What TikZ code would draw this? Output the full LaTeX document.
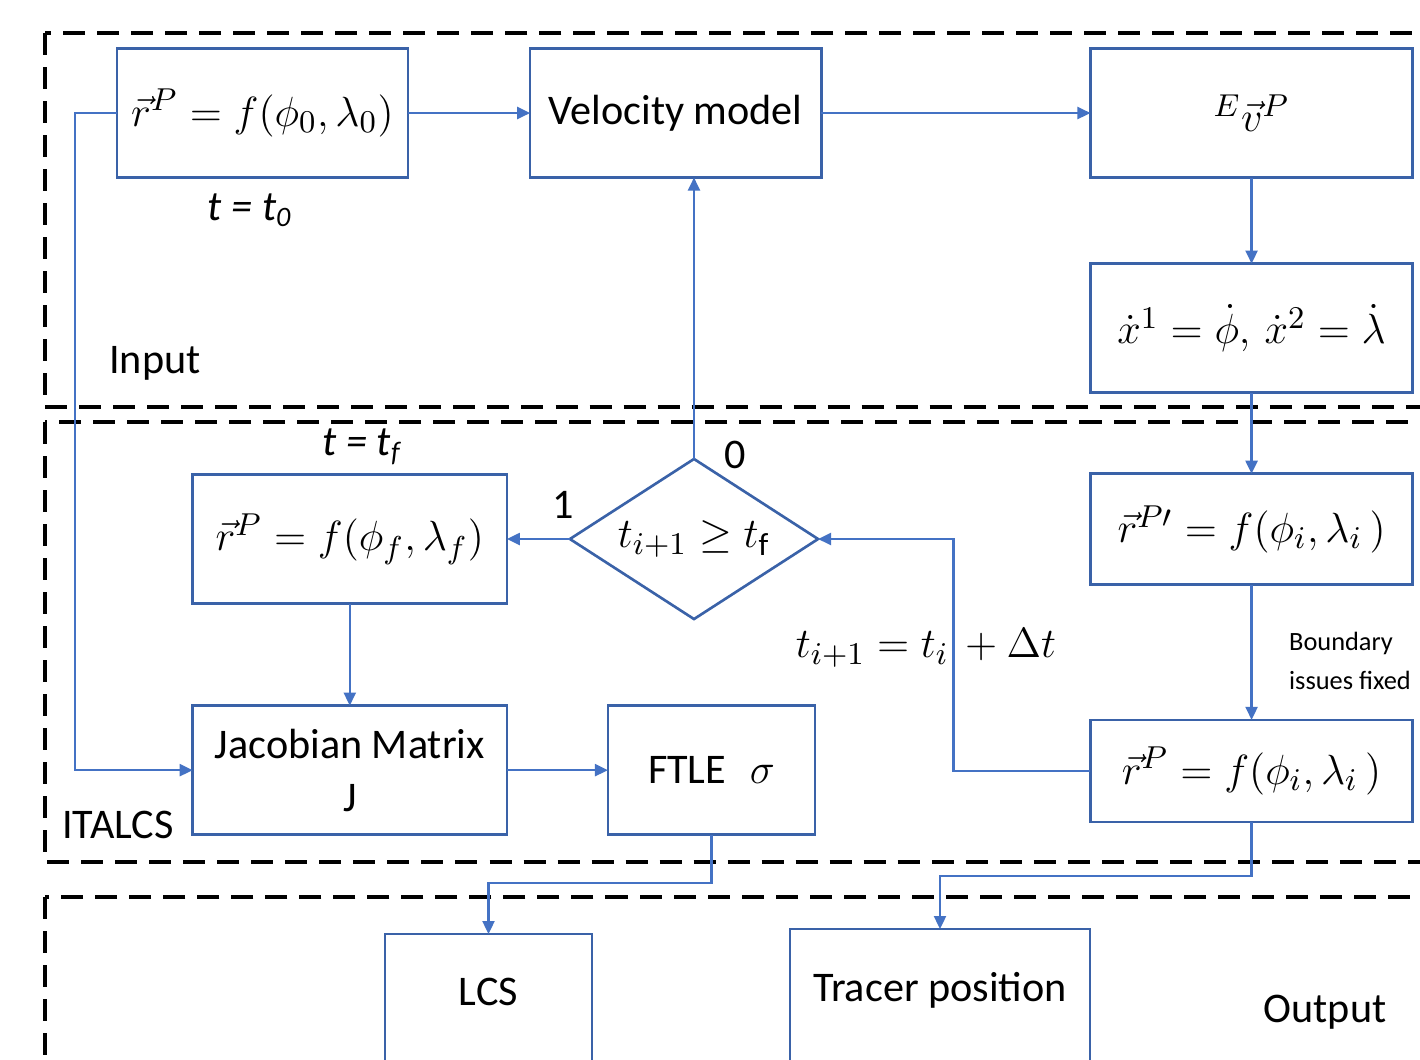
\documentclass[tikz,border=0pt]{standalone}
\usepackage{amsmath,amssymb}
\usepackage{fontspec}
\setmainfont{Carlito}
\usepackage{tikz}
\usetikzlibrary{positioning, arrows.meta, shapes.geometric, calc}
\definecolor{BoxBlue}{HTML}{3A62A8}
\definecolor{LineBlue}{HTML}{4472C4}

\begin{document}
\begin{tikzpicture}[
    x=0.01cm, y=-0.01cm,
    blk/.style={draw=BoxBlue, line width=0.75pt, minimum width=2.91cm, minimum height=1.29cm, align=center, inner sep=0pt, outer sep=0pt, font=\fontsize{12}{17}\selectfont},
    dec/.style={draw=BoxBlue, line width=0.75pt, diamond, aspect=1.55, minimum width=2.48cm, minimum height=1.6cm, inner sep=0pt, outer sep=0pt, font=\fontsize{13}{16}\selectfont},
    arr/.style={-{Triangle[length=1.3mm, width=1.2mm]}, line width=0.65pt, color=LineBlue},
    region/.style={draw=black, line width=1pt, dash pattern=on 0.22cm off 0.12cm},
    lbl/.style={font=\fontsize{12}{15}\selectfont, inner sep=1pt},
    mth/.style={font=\fontsize{13}{16}\selectfont},
    every node/.style={font=\fontsize{12}{15}\selectfont}
]
\useasboundingbox (0,0) rectangle (1420,1059);
\fill[white] (0,0) rectangle (1420,1059);

% Dashed regions
\draw[region] (45,33) rectangle (1460,407);
\draw[region] (45,422) rectangle (1460,862);
\draw[region] (45,897) rectangle (1460,1100);

\node[lbl] (input) at (155,363) {Input};
\node[lbl] (italcs) at (118,825) {ITALCS};
\node[lbl] (output) at (1325,1012) {Output};

% Input stage
\node[blk, mth] (rzero) at (262.5,113) {$\vec{r}^{P} = f(\phi_0, \lambda_0)$};
\node[blk, right=1.22cm of rzero] (vel) {Velocity model};
\node[blk, mth, minimum width=3.22cm, right=2.69cm of vel] (evel) {${}^{E}\vec{v}^{P}$};
\node[blk, mth, minimum width=3.22cm, below=0.86cm of evel] (xdot) {$\dot{x}^1 = \dot{\phi},\, \dot{x}^2 = \dot{\lambda}$};

\node[lbl] (tzero) at (250,210) {\textit{t = t\textsubscript{0}}};

% ITALCS stage
\node[blk, mth, minimum width=3.22cm, minimum height=1.11cm, below=0.81cm of xdot] (rprime) {$\vec{r}^{P\prime} = f(\phi_i, \lambda_i\,)$};
\node[blk, mth, minimum width=3.22cm, minimum height=1.02cm, below=1.35cm of rprime] (rstep) {$\vec{r}^{P} = f(\phi_i, \lambda_i\,)$};

\node[dec] (check) at (694,539) {$t_{i+1} \geq t_{\mathrm{f}}$};
\node[blk, mth, minimum width=3.14cm, left=0.63cm of check] (rfin) {$\vec{r}^{P} = f(\phi_f, \lambda_f)$};
\node[blk, minimum width=3.14cm, below=1.02cm of rfin] (jac) {Jacobian Matrix\\[-2pt]$\mathrm{J}$};
\node[blk, minimum width=2.07cm, right=1.01cm of jac] (ftle) {FTLE\,\ \,$\sigma$};

\node[lbl] (tfin) at (362,447) {\textit{t = t\textsubscript{f}}};
\node[lbl] (one) at (563,505) {1};
\node[lbl] (zero) at (735,455) {0};
\node[lbl, mth] (tinc) at (926,648) {$t_{i+1} = t_i\, + \Delta t$};
\node[font=\fontsize{7.5}{11}\selectfont, align=left] (bnd) at (1350,661) {Boundary\\issues fixed};

% Output stage
\node[blk, minimum width=2.07cm, minimum height=1.6cm, anchor=north] (lcs) at (488.5,934) {\raisebox{0.45cm}{LCS}};
\node[blk, minimum width=3.0cm, minimum height=1.6cm, anchor=north] (tracer) at (940,929) {\raisebox{0.45cm}{Tracer position}};

% Connectors
\draw[arr] (rzero.west) -- ++(-42,0) |- (jac.west);
\draw[arr] (rzero) -- (vel);
\draw[arr] (vel) -- (evel);
\draw[arr] (evel) -- (xdot);
\draw[arr] (xdot) -- (rprime);
\draw[arr] (rprime) -- (rstep);
\draw[arr] (rstep.west) -- ++(-137,0) |- (check.east);
\draw[arr] (check.north) -- (check.north |- vel.south);
\draw[arr] (check.west) -- (rfin.east);
\draw[arr] (rfin) -- (jac);
\draw[arr] (jac) -- (ftle);
\draw[arr] (ftle.south) -- ++(0,48) -| (lcs.north);
\draw[arr] (rstep.south) -- ++(0,54) -| (tracer.north);

\end{tikzpicture}
\end{document}
